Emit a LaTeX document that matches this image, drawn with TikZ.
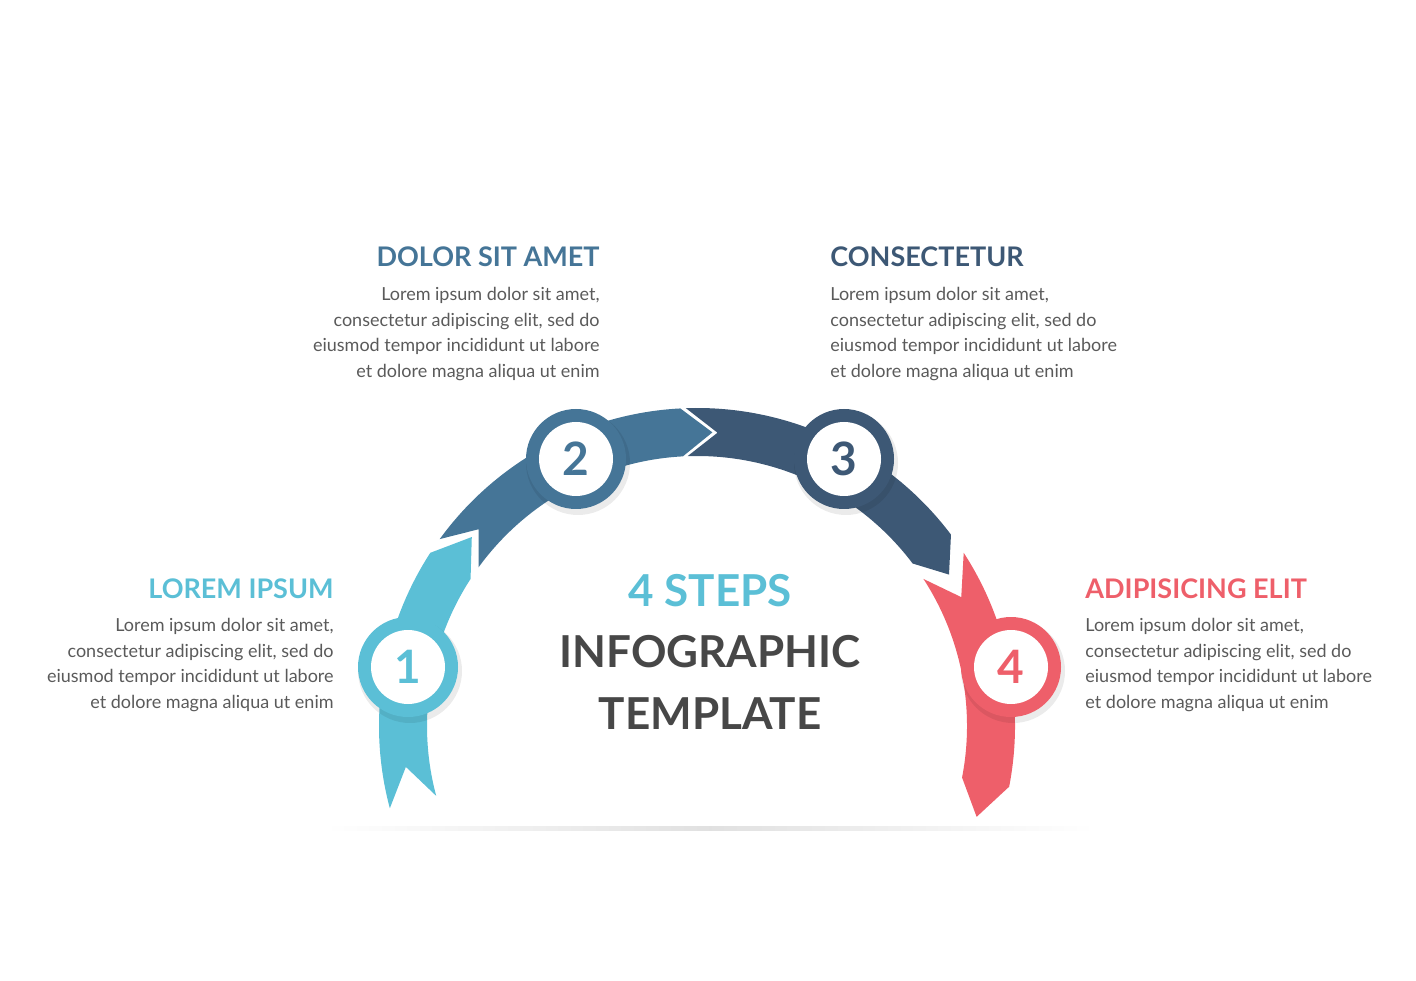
\documentclass[tikz,border=0pt]{standalone}
\usepackage{fontspec}
\setmainfont{Lato}
\usetikzlibrary{calc}
\definecolor{cA}{HTML}{5BBFD6}
\definecolor{cB}{HTML}{457597}
\definecolor{cC}{HTML}{3D5875}
\definecolor{cD}{HTML}{EE5F6A}
\definecolor{txt}{HTML}{5A5A5A}
\definecolor{ttl}{HTML}{474747}
\newcommand{\ribbon}[4]{% color, a1, a2, delta
  \fill[#1] ($(C)+(#2:318)$) arc[start angle=#2,end angle=#3,radius=159pt]
    -- ($(C)+({#3-#4}:294)$) -- ($(C)+(#3:270)$)
    arc[start angle=#3,end angle=#2,radius=135pt]
    -- ($(C)+({#2-#4}:294)$) -- cycle;}
\tikzset{
  body/.style={inner sep=0pt,text=txt,font=\fontsize{9}{12.8}\selectfont},
  head/.style={inner sep=0pt,font=\fontsize{13.5}{15}\selectfont\bfseries},
  num/.style={circle,fill=white,minimum size=37pt,inner sep=0pt,font=\fontsize{23}{25}\selectfont\bfseries},
}
\begin{document}
\begin{tikzpicture}[x=0.5pt,y=0.5pt]
\useasboundingbox (0,0) rectangle (1416,980);
\coordinate (C) at (697,254);
% ground shadow
\shade[left color=white,right color=white,middle color=black!12] (325,150) rectangle (1095,154);
\ribbon{cA}{195}{147}{7}
\ribbon{cB}{144}{93}{6}
\ribbon{cC}{92}{37}{6}
\ribbon{cD}{33}{-11}{7}
% circles
\foreach \n/\x/\y/\c in {1/408/313/cA,2/576/521/cB,3/844/521/cC,4/1011/313/cD}{
  \fill[black,opacity=0.08] (\x+2,\y-4) circle[radius=26pt];
  \fill[\c] (\x,\y) circle[radius=25pt];
  \node[num,text=\c] (n\n) at (\x,\y) {\n};
}
% center title
\node[inner sep=0pt,text=cA,font=\fontsize{22}{24}\selectfont\bfseries] (t1) at (710,389) {4 STEPS};
\node[inner sep=0pt,text=ttl,font=\fontsize{22}{24}\selectfont\bfseries] (t2) at (710,328) {INFOGRAPHIC};
\node[inner sep=0pt,text=ttl,font=\fontsize{22}{24}\selectfont\bfseries] (t3) at (710,266) {TEMPLATE};
% texts
\node[head,text=cA,anchor=base east] (h1) at (334,382) {LOREM IPSUM};
\node[body,align=right,anchor=north east] (b1) at (334,362) {Lorem ipsum dolor sit amet,\\consectetur adipiscing elit, sed do\\eiusmod tempor incididunt ut labore\\et dolore magna aliqua ut enim};
\node[head,text=cB,anchor=base east] (h2) at (600,713) {DOLOR SIT AMET};
\node[body,align=right,anchor=north east] (b2) at (600,693) {Lorem ipsum dolor sit amet,\\consectetur adipiscing elit, sed do\\eiusmod tempor incididunt ut labore\\et dolore magna aliqua ut enim};
\node[head,text=cC,anchor=base west] (h3) at (830,713) {CONSECTETUR};
\node[body,align=left,anchor=north west] (b3) at (830,693) {Lorem ipsum dolor sit amet,\\consectetur adipiscing elit, sed do\\eiusmod tempor incididunt ut labore\\et dolore magna aliqua ut enim};
\node[head,text=cD,anchor=base west] (h4) at (1085,382) {ADIPISICING ELIT};
\node[body,align=left,anchor=north west] (b4) at (1085,362) {Lorem ipsum dolor sit amet,\\consectetur adipiscing elit, sed do\\eiusmod tempor incididunt ut labore\\et dolore magna aliqua ut enim};
\end{tikzpicture}
\end{document}
